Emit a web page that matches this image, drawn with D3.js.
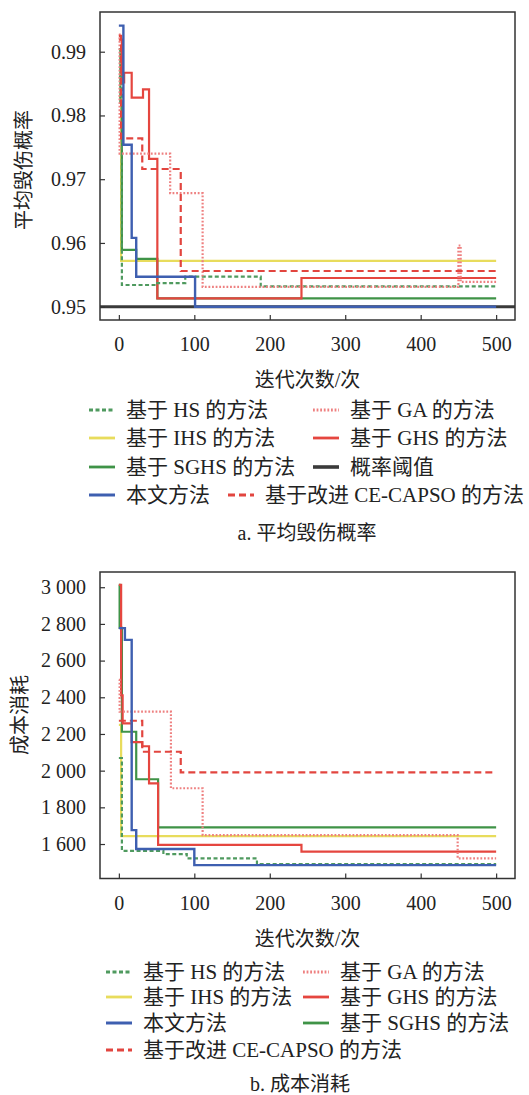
<html>
<head>
<meta charset="utf-8">
<script src="https://d3js.org/d3.v7.min.js"></script>
<style>
  body { margin: 0; background: #fff; }
  text { font-family: "Liberation Serif", "Noto Sans CJK SC", serif; fill: #222; }
</style>
</head>
<body>
<svg id="fig" width="529" height="1095"></svg>
<script>
// ---- data ----
const iterTicks = [0, 100, 200, 300, 400, 500];
const probTicks = [0.95, 0.96, 0.97, 0.98, 0.99];
const costTicks = [1600, 1800, 2000, 2200, 2400, 2600, 2800, 3000];
const costTickLabels = ["1 600", "1 800", "2 000", "2 200", "2 400", "2 600", "2 800", "3 000"];

// (a) average damage probability, [iteration, value] step points
const hsProb   = [[0, 0.9860], [4, 0.9534], [51, 0.9537], [88, 0.9547], [188, 0.9532], [500, 0.9532]];
const gaProb   = [[0, 0.9927], [1, 0.9740], [68, 0.9678], [111, 0.9531], [450, 0.9596], [453, 0.9539], [500, 0.9539]];
const ihsProb  = [[0, 0.9830], [3, 0.9572], [500, 0.9572]];
const ghsProb  = [[0, 0.9919], [4, 0.9852], [7, 0.9867], [17, 0.9828], [32, 0.9841], [40, 0.9732], [51, 0.9513], [242, 0.9545], [500, 0.9545]];
const sghsProb = [[0, 0.9904], [2, 0.9820], [4, 0.9589], [23, 0.9575], [51, 0.9513], [500, 0.9513]];
const oursProb = [[0, 0.9941], [6, 0.9754], [17, 0.9608], [23, 0.9547], [101, 0.9500], [500, 0.9500]];
const ceProb   = [[0, 0.9925], [3, 0.9764], [31, 0.9716], [82, 0.9556], [500, 0.9556]];
const thresholdProb = 0.95;

// (b) cost
const hsCost   = [[0, 2069], [4, 1563], [59, 1545], [90, 1522], [183, 1490], [500, 1490]];
const gaCost   = [[0, 2495], [1, 2322], [69, 1904], [111, 1649], [449, 1522], [500, 1522]];
const ihsCost  = [[0, 2250], [3, 1643], [500, 1643]];
const ghsCost  = [[0, 3013], [3, 2410], [5, 2258], [17, 2155], [31, 2133], [40, 1931], [52, 1595], [242, 1558], [500, 1558]];
const sghsCost = [[0, 3013], [1, 2778], [4, 2212], [23, 1953], [52, 1691], [500, 1691]];
const oursCost = [[0, 2777], [8, 2713], [17, 1676], [23, 1573], [100, 1485], [500, 1485]];
const ceCost   = [[0, 2272], [31, 2103], [82, 1991], [500, 1991]];

// ---- styles ----
const styles = {
  hs:   { color: "#4f9a5f", dash: "4,2.5", width: 2.2, label: "基于 HS 的方法" },
  ga:   { color: "#ee8080", dash: "1.8,1.8", width: 2.2, label: "基于 GA 的方法" },
  ihs:  { color: "#e8dc5c", dash: null, width: 2.2, label: "基于 IHS 的方法" },
  ghs:  { color: "#e5463f", dash: null, width: 2.2, label: "基于 GHS 的方法" },
  sghs: { color: "#3f9347", dash: null, width: 2.2, label: "基于 SGHS 的方法" },
  thr:  { color: "#3a3a3a", dash: null, width: 3, label: "概率阈值" },
  ours: { color: "#3e5fb0", dash: null, width: 2.4, label: "本文方法" },
  ce:   { color: "#e2453f", dash: "7,4", width: 2.2, label: "基于改进 CE-CAPSO 的方法" }
};

const svg = d3.select('svg#fig');

function drawChart(cfg) {
  const left = 100, right = 515;
  const x = d3.scaleLinear().domain([-25, 525]).range([left, right]);
  const y = d3.scaleLinear().domain(cfg.yDomain).range([cfg.bottom, cfg.top]);

  const g = svg.append('g');
  const clipId = 'clip-' + cfg.id;
  svg.append('clipPath').attr('id', clipId)
     .append('rect')
     .attr('x', left).attr('y', cfg.top)
     .attr('width', right - left).attr('height', cfg.bottom - cfg.top);

  const line = d3.line()
                 .x(d => x(d[0]))
                 .y(d => y(d[1]))
                 .curve(d3.curveStepAfter);

  const lines = g.append('g').attr('clip-path', `url(#${clipId})`);
  cfg.series.forEach(s => {
    const st = styles[s.key];
    let pts = s.data;
    if (s.flat !== undefined) pts = [[-25, s.flat], [525, s.flat]];
    lines.append('path')
         .datum(pts)
         .attr('d', line)
         .attr('fill', 'none')
         .attr('stroke', st.color)
         .attr('stroke-width', st.width)
         .attr('stroke-dasharray', st.dash);
  });

  // axes with inward ticks
  const xAxis = g.append('g')
                 .attr('transform', `translate(0, ${cfg.bottom})`)
                 .call(d3.axisBottom(x).tickValues(iterTicks).tickSizeInner(-5).tickSizeOuter(0).tickPadding(17));
  const yAxis = g.append('g')
                 .attr('transform', `translate(${left}, 0)`)
                 .call(d3.axisLeft(y).tickValues(cfg.ticks).tickFormat(cfg.tickFormat)
                         .tickSizeInner(-5).tickSizeOuter(0).tickPadding(14));
  [xAxis, yAxis].forEach(a => {
    a.select('.domain').remove();
    a.selectAll('line').attr('stroke', '#333').attr('stroke-width', 1.2);
    a.selectAll('text').style('font-size', '20px').attr('fill', '#222')
     .style('font-family', '"Liberation Serif", serif');
  });

  g.append('rect')
   .attr('x', left).attr('y', cfg.top)
   .attr('width', right - left).attr('height', cfg.bottom - cfg.top)
   .attr('fill', 'none').attr('stroke', '#333').attr('stroke-width', 1.5);

  g.append('text')
   .attr('x', (left + right) / 2).attr('y', cfg.bottom + 60)
   .attr('text-anchor', 'middle').attr('dominant-baseline', 'central')
   .style('font-size', '20px')
   .text('迭代次数/次');

  g.append('text')
   .attr('transform', `translate(${cfg.yTitleX}, ${cfg.yTitleY}) rotate(-90)`)
   .attr('text-anchor', 'middle').attr('dominant-baseline', 'central')
   .style('font-size', '20px')
   .text(cfg.yTitle);

  // legend
  cfg.legend.forEach(item => {
    const st = styles[item.key];
    g.append('line')
     .attr('x1', item.x).attr('x2', item.x + 26)
     .attr('y1', item.y).attr('y2', item.y)
     .attr('stroke', st.color).attr('stroke-width', st.width + 0.6)
     .attr('stroke-dasharray', st.dash);
    g.append('text')
     .attr('x', item.x + 37).attr('y', item.y)
     .attr('dominant-baseline', 'central')
     .style('font-size', '21px')
     .text(st.label);
  });

  g.append('text')
   .attr('x', cfg.captionX).attr('y', cfg.captionY)
   .attr('text-anchor', 'middle').attr('dominant-baseline', 'central')
   .style('font-size', '20px')
   .text(cfg.caption);
}

drawChart({
  id: 'a', top: 12, bottom: 320,
  yDomain: [0.94791, 0.99623],
  ticks: probTicks, tickFormat: d3.format('.2f'),
  yTitle: '平均毁伤概率', yTitleX: 24, yTitleY: 170,
  series: [
    { key: 'thr', flat: thresholdProb },
    { key: 'ihs', data: ihsProb },
    { key: 'sghs', data: sghsProb },
    { key: 'ghs', data: ghsProb },
    { key: 'hs', data: hsProb },
    { key: 'ga', data: gaProb },
    { key: 'ce', data: ceProb },
    { key: 'ours', data: oursProb }
  ],
  legend: [
    { key: 'hs', x: 89, y: 410 }, { key: 'ga', x: 313, y: 410 },
    { key: 'ihs', x: 89, y: 438 }, { key: 'ghs', x: 313, y: 438 },
    { key: 'sghs', x: 89, y: 467 }, { key: 'thr', x: 313, y: 467 },
    { key: 'ours', x: 89, y: 495 }, { key: 'ce', x: 228, y: 495 }
  ],
  caption: 'a. 平均毁伤概率', captionX: 307, captionY: 533
});

drawChart({
  id: 'b', top: 572, bottom: 878.5,
  yDomain: [1412, 3083],
  ticks: costTicks, tickFormat: (d, i) => costTickLabels[i],
  yTitle: '成本消耗', yTitleX: 20, yTitleY: 715,
  series: [
    { key: 'ihs', data: ihsCost },
    { key: 'sghs', data: sghsCost },
    { key: 'ghs', data: ghsCost },
    { key: 'hs', data: hsCost },
    { key: 'ga', data: gaCost },
    { key: 'ce', data: ceCost },
    { key: 'ours', data: oursCost }
  ],
  legend: [
    { key: 'hs', x: 106, y: 972 }, { key: 'ga', x: 303, y: 972 },
    { key: 'ihs', x: 106, y: 997 }, { key: 'ghs', x: 303, y: 997 },
    { key: 'ours', x: 106, y: 1023 }, { key: 'sghs', x: 303, y: 1023 },
    { key: 'ce', x: 106, y: 1050 }
  ],
  caption: 'b. 成本消耗', captionX: 300, captionY: 1084
});
</script>
</body>
</html>
